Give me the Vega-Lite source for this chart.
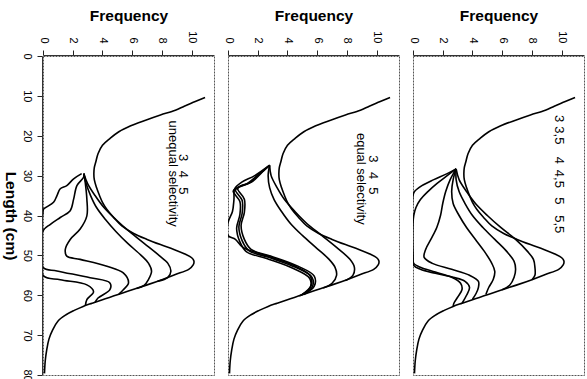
{
"$schema": "https://vega.github.io/schema/vega-lite/v6.json",
"padding": {"left": 1, "top": 8, "right": 2, "bottom": 0},
"data": {"values": [
{"p":1,"c":"m","L":10.4,"F":10.9},{"p":1,"c":"m","L":11.5,"F":10.2},{"p":1,"c":"m","L":12.6,"F":9.5},{"p":1,"c":"m","L":13.6,"F":8.9},{"p":1,"c":"m","L":14.8,"F":7.9},{"p":1,"c":"m","L":16.1,"F":6.9},{"p":1,"c":"m","L":17.5,"F":5.9},{"p":1,"c":"m","L":19,"F":5.1},{"p":1,"c":"m","L":20.7,"F":4.5},{"p":1,"c":"m","L":22.4,"F":4.0},{"p":1,"c":"m","L":24.5,"F":3.7},{"p":1,"c":"m","L":26.6,"F":3.55},{"p":1,"c":"m","L":28,"F":3.45},{"p":1,"c":"m","L":29.5,"F":3.42},{"p":1,"c":"m","L":31,"F":3.45},{"p":1,"c":"m","L":33,"F":3.6},{"p":1,"c":"m","L":35,"F":3.8},{"p":1,"c":"m","L":36.7,"F":4.0},{"p":1,"c":"m","L":38.5,"F":4.3},{"p":1,"c":"m","L":40.5,"F":4.75},{"p":1,"c":"m","L":42.6,"F":5.3},{"p":1,"c":"m","L":44.5,"F":6.1},{"p":1,"c":"m","L":46,"F":7.0},{"p":1,"c":"m","L":47.3,"F":7.9},{"p":1,"c":"m","L":48.5,"F":8.8},{"p":1,"c":"m","L":49.6,"F":9.5},{"p":1,"c":"m","L":50.6,"F":10.0},{"p":1,"c":"m","L":51.4,"F":10.15},{"p":1,"c":"m","L":52.4,"F":10.1},{"p":1,"c":"m","L":53.5,"F":9.8},{"p":1,"c":"m","L":54.8,"F":8.9},{"p":1,"c":"m","L":56.1,"F":8.0},{"p":1,"c":"m","L":57.4,"F":7.0},{"p":1,"c":"m","L":58.6,"F":6.0},{"p":1,"c":"m","L":59.9,"F":5.0},{"p":1,"c":"m","L":61.1,"F":4.0},{"p":1,"c":"m","L":62,"F":3.3},{"p":1,"c":"m","L":62.8,"F":2.7},{"p":1,"c":"m","L":63.8,"F":2.1},{"p":1,"c":"m","L":64.9,"F":1.55},{"p":1,"c":"m","L":66.5,"F":1.0},{"p":1,"c":"m","L":68.7,"F":0.65},{"p":1,"c":"m","L":71,"F":0.4},{"p":1,"c":"m","L":73.7,"F":0.25},{"p":1,"c":"m","L":76.5,"F":0.15},{"p":1,"c":"m","L":79.6,"F":0.1},
{"p":2,"c":"m","L":10.4,"F":10.9},{"p":2,"c":"m","L":11.5,"F":10.2},{"p":2,"c":"m","L":12.6,"F":9.5},{"p":2,"c":"m","L":13.6,"F":8.9},{"p":2,"c":"m","L":14.8,"F":7.9},{"p":2,"c":"m","L":16.1,"F":6.9},{"p":2,"c":"m","L":17.5,"F":5.9},{"p":2,"c":"m","L":19,"F":5.1},{"p":2,"c":"m","L":20.7,"F":4.5},{"p":2,"c":"m","L":22.4,"F":4.0},{"p":2,"c":"m","L":24.5,"F":3.7},{"p":2,"c":"m","L":26.6,"F":3.55},{"p":2,"c":"m","L":28,"F":3.45},{"p":2,"c":"m","L":29.5,"F":3.42},{"p":2,"c":"m","L":31,"F":3.45},{"p":2,"c":"m","L":33,"F":3.6},{"p":2,"c":"m","L":35,"F":3.8},{"p":2,"c":"m","L":36.7,"F":4.0},{"p":2,"c":"m","L":38.5,"F":4.3},{"p":2,"c":"m","L":40.5,"F":4.75},{"p":2,"c":"m","L":42.6,"F":5.3},{"p":2,"c":"m","L":44.5,"F":6.1},{"p":2,"c":"m","L":46,"F":7.0},{"p":2,"c":"m","L":47.3,"F":7.9},{"p":2,"c":"m","L":48.5,"F":8.8},{"p":2,"c":"m","L":49.6,"F":9.5},{"p":2,"c":"m","L":50.6,"F":10.0},{"p":2,"c":"m","L":51.4,"F":10.15},{"p":2,"c":"m","L":52.4,"F":10.1},{"p":2,"c":"m","L":53.5,"F":9.8},{"p":2,"c":"m","L":54.8,"F":8.9},{"p":2,"c":"m","L":56.1,"F":8.0},{"p":2,"c":"m","L":57.4,"F":7.0},{"p":2,"c":"m","L":58.6,"F":6.0},{"p":2,"c":"m","L":59.9,"F":5.0},{"p":2,"c":"m","L":61.1,"F":4.0},{"p":2,"c":"m","L":62,"F":3.3},{"p":2,"c":"m","L":62.8,"F":2.7},{"p":2,"c":"m","L":63.8,"F":2.1},{"p":2,"c":"m","L":64.9,"F":1.55},{"p":2,"c":"m","L":66.5,"F":1.0},{"p":2,"c":"m","L":68.7,"F":0.65},{"p":2,"c":"m","L":71,"F":0.4},{"p":2,"c":"m","L":73.7,"F":0.25},{"p":2,"c":"m","L":76.5,"F":0.15},{"p":2,"c":"m","L":79.6,"F":0.1},
{"p":3,"c":"m","L":10.4,"F":10.9},{"p":3,"c":"m","L":11.5,"F":10.2},{"p":3,"c":"m","L":12.6,"F":9.5},{"p":3,"c":"m","L":13.6,"F":8.9},{"p":3,"c":"m","L":14.8,"F":7.9},{"p":3,"c":"m","L":16.1,"F":6.9},{"p":3,"c":"m","L":17.5,"F":5.9},{"p":3,"c":"m","L":19,"F":5.1},{"p":3,"c":"m","L":20.7,"F":4.5},{"p":3,"c":"m","L":22.4,"F":4.0},{"p":3,"c":"m","L":24.5,"F":3.7},{"p":3,"c":"m","L":26.6,"F":3.55},{"p":3,"c":"m","L":28,"F":3.45},{"p":3,"c":"m","L":29.5,"F":3.42},{"p":3,"c":"m","L":31,"F":3.45},{"p":3,"c":"m","L":33,"F":3.6},{"p":3,"c":"m","L":35,"F":3.8},{"p":3,"c":"m","L":36.7,"F":4.0},{"p":3,"c":"m","L":38.5,"F":4.3},{"p":3,"c":"m","L":40.5,"F":4.75},{"p":3,"c":"m","L":42.6,"F":5.3},{"p":3,"c":"m","L":44.5,"F":6.1},{"p":3,"c":"m","L":46,"F":7.0},{"p":3,"c":"m","L":47.3,"F":7.9},{"p":3,"c":"m","L":48.5,"F":8.8},{"p":3,"c":"m","L":49.6,"F":9.5},{"p":3,"c":"m","L":50.6,"F":10.0},{"p":3,"c":"m","L":51.4,"F":10.15},{"p":3,"c":"m","L":52.4,"F":10.1},{"p":3,"c":"m","L":53.5,"F":9.8},{"p":3,"c":"m","L":54.8,"F":8.9},{"p":3,"c":"m","L":56.1,"F":8.0},{"p":3,"c":"m","L":57.4,"F":7.0},{"p":3,"c":"m","L":58.6,"F":6.0},{"p":3,"c":"m","L":59.9,"F":5.0},{"p":3,"c":"m","L":61.1,"F":4.0},{"p":3,"c":"m","L":62,"F":3.3},{"p":3,"c":"m","L":62.8,"F":2.7},{"p":3,"c":"m","L":63.8,"F":2.1},{"p":3,"c":"m","L":64.9,"F":1.55},{"p":3,"c":"m","L":66.5,"F":1.0},{"p":3,"c":"m","L":68.7,"F":0.65},{"p":3,"c":"m","L":71,"F":0.4},{"p":3,"c":"m","L":73.7,"F":0.25},{"p":3,"c":"m","L":76.5,"F":0.15},{"p":3,"c":"m","L":79.6,"F":0.1},
{"p":1,"c":"a","L":29.5,"F":2.75},{"p":1,"c":"a","L":32,"F":3.0},{"p":1,"c":"a","L":35,"F":3.5},{"p":1,"c":"a","L":38,"F":4.1},{"p":1,"c":"a","L":41,"F":4.9},{"p":1,"c":"a","L":44,"F":5.8},{"p":1,"c":"a","L":47,"F":6.8},{"p":1,"c":"a","L":50,"F":7.8},{"p":1,"c":"a","L":52,"F":8.4},{"p":1,"c":"a","L":54,"F":8.6},{"p":1,"c":"a","L":55.5,"F":8.4},{"p":1,"c":"a","L":56.5,"F":7.7},
{"p":1,"c":"b","L":29.5,"F":2.75},{"p":1,"c":"b","L":32,"F":2.9},{"p":1,"c":"b","L":35,"F":3.2},{"p":1,"c":"b","L":38,"F":3.6},{"p":1,"c":"b","L":41,"F":4.2},{"p":1,"c":"b","L":44,"F":4.9},{"p":1,"c":"b","L":47,"F":5.7},{"p":1,"c":"b","L":50,"F":6.6},{"p":1,"c":"b","L":52,"F":7.1},{"p":1,"c":"b","L":54,"F":7.3},{"p":1,"c":"b","L":56,"F":7.1},{"p":1,"c":"b","L":57.5,"F":6.8},{"p":1,"c":"b","L":58.3,"F":6.3},
{"p":1,"c":"c","L":29.5,"F":2.75},{"p":1,"c":"c","L":31.7,"F":2.84},{"p":1,"c":"c","L":35.9,"F":2.95},{"p":1,"c":"c","L":40.1,"F":2.95},{"p":1,"c":"c","L":43.4,"F":2.5},{"p":1,"c":"c","L":46,"F":1.83},{"p":1,"c":"c","L":48.5,"F":1.5},{"p":1,"c":"c","L":50.2,"F":1.6},{"p":1,"c":"c","L":51,"F":2.5},{"p":1,"c":"c","L":52.7,"F":4.3},{"p":1,"c":"c","L":54.4,"F":5.4},{"p":1,"c":"c","L":56.9,"F":5.75},{"p":1,"c":"c","L":58.6,"F":5.4},{"p":1,"c":"c","L":59.7,"F":5.1},
{"p":1,"c":"d","L":29.5,"F":2.6},{"p":1,"c":"d","L":30.8,"F":2.06},{"p":1,"c":"d","L":32.5,"F":1.6},{"p":1,"c":"d","L":33.3,"F":1.16},{"p":1,"c":"d","L":35,"F":0.94},{"p":1,"c":"d","L":36.7,"F":0.71},{"p":1,"c":"d","L":38.4,"F":0.04},{"p":1,"c":"d","L":39,"F":0},{"p":1,"c":"d","L":53,"F":0},{"p":1,"c":"d","L":53.9,"F":0.94},{"p":1,"c":"d","L":55.6,"F":3.17},{"p":1,"c":"d","L":56.9,"F":4.5},{"p":1,"c":"d","L":58.6,"F":4.5},{"p":1,"c":"d","L":60.7,"F":3.7},{"p":1,"c":"d","L":61.8,"F":3.5},
{"p":1,"c":"e","L":29.5,"F":2.75},{"p":1,"c":"e","L":30.4,"F":2.73},{"p":1,"c":"e","L":32.5,"F":2.28},{"p":1,"c":"e","L":35.9,"F":2.06},{"p":1,"c":"e","L":38.8,"F":1.83},{"p":1,"c":"e","L":40.5,"F":1.16},{"p":1,"c":"e","L":42.2,"F":0.5},{"p":1,"c":"e","L":43.9,"F":0},{"p":1,"c":"e","L":55,"F":0},{"p":1,"c":"e","L":56.1,"F":1.16},{"p":1,"c":"e","L":57.4,"F":2.95},{"p":1,"c":"e","L":59.1,"F":3.4},{"p":1,"c":"e","L":61.1,"F":2.95},{"p":1,"c":"e","L":62.6,"F":2.85},
{"p":2,"c":"a","L":27.4,"F":2.8},{"p":2,"c":"a","L":30,"F":2.9},{"p":2,"c":"a","L":33,"F":3.3},{"p":2,"c":"a","L":36,"F":3.8},{"p":2,"c":"a","L":39,"F":4.5},{"p":2,"c":"a","L":42,"F":5.3},{"p":2,"c":"a","L":45,"F":6.3},{"p":2,"c":"a","L":48,"F":7.3},{"p":2,"c":"a","L":51,"F":8.2},{"p":2,"c":"a","L":53,"F":8.5},{"p":2,"c":"a","L":55,"F":8.4},{"p":2,"c":"a","L":56.3,"F":7.9},
{"p":2,"c":"b","L":27.4,"F":2.8},{"p":2,"c":"b","L":30,"F":2.7},{"p":2,"c":"b","L":33,"F":2.8},{"p":2,"c":"b","L":36,"F":3.1},{"p":2,"c":"b","L":39,"F":3.6},{"p":2,"c":"b","L":42,"F":4.2},{"p":2,"c":"b","L":45,"F":5.0},{"p":2,"c":"b","L":48,"F":5.9},{"p":2,"c":"b","L":51,"F":6.8},{"p":2,"c":"b","L":53,"F":7.2},{"p":2,"c":"b","L":55,"F":7.3},{"p":2,"c":"b","L":57,"F":7.0},{"p":2,"c":"b","L":58.2,"F":6.4},
{"p":2,"c":"c","L":27.4,"F":2.8},{"p":2,"c":"c","L":29.5,"F":2.2},{"p":2,"c":"c","L":31.7,"F":1.55},{"p":2,"c":"c","L":32.5,"F":0.88},{"p":2,"c":"c","L":33.3,"F":0.65},{"p":2,"c":"c","L":35.9,"F":1.1},{"p":2,"c":"c","L":39.2,"F":1.1},{"p":2,"c":"c","L":42.6,"F":0.88},{"p":2,"c":"c","L":46,"F":1.1},{"p":2,"c":"c","L":48.5,"F":1.55},{"p":2,"c":"c","L":50.2,"F":2.9},{"p":2,"c":"c","L":52.7,"F":4.7},{"p":2,"c":"c","L":55.2,"F":5.8},{"p":2,"c":"c","L":57.7,"F":5.8},{"p":2,"c":"c","L":59.8,"F":5.1},
{"p":2,"c":"d","L":27.4,"F":2.8},{"p":2,"c":"d","L":29.7,"F":2.1},{"p":2,"c":"d","L":31.9,"F":1.4},{"p":2,"c":"d","L":32.8,"F":0.75},{"p":2,"c":"d","L":33.6,"F":0.5},{"p":2,"c":"d","L":36.2,"F":0.95},{"p":2,"c":"d","L":39.5,"F":0.95},{"p":2,"c":"d","L":42.9,"F":0.73},{"p":2,"c":"d","L":46.3,"F":0.95},{"p":2,"c":"d","L":48.8,"F":1.4},{"p":2,"c":"d","L":50.5,"F":2.75},{"p":2,"c":"d","L":53,"F":4.55},{"p":2,"c":"d","L":55.5,"F":5.65},{"p":2,"c":"d","L":58,"F":5.65},{"p":2,"c":"d","L":60,"F":4.9},
{"p":2,"c":"e","L":27.4,"F":2.8},{"p":2,"c":"e","L":29.9,"F":2.0},{"p":2,"c":"e","L":32.1,"F":1.25},{"p":2,"c":"e","L":33.1,"F":0.6},{"p":2,"c":"e","L":33.9,"F":0.35},{"p":2,"c":"e","L":36.5,"F":0.8},{"p":2,"c":"e","L":39.8,"F":0.8},{"p":2,"c":"e","L":43.2,"F":0.58},{"p":2,"c":"e","L":46.6,"F":0.8},{"p":2,"c":"e","L":49.1,"F":1.25},{"p":2,"c":"e","L":50.8,"F":2.6},{"p":2,"c":"e","L":53.3,"F":4.4},{"p":2,"c":"e","L":55.8,"F":5.5},{"p":2,"c":"e","L":58.3,"F":5.5},{"p":2,"c":"e","L":60.2,"F":4.8},
{"p":2,"c":"f","L":27.4,"F":2.8},{"p":2,"c":"f","L":30,"F":1.8},{"p":2,"c":"f","L":31.7,"F":0.9},{"p":2,"c":"f","L":33.3,"F":0.45},{"p":2,"c":"f","L":36,"F":0.4},{"p":2,"c":"f","L":39,"F":0.3},{"p":2,"c":"f","L":41.8,"F":0},{"p":2,"c":"f","L":45,"F":0},{"p":2,"c":"f","L":46,"F":0.5},{"p":2,"c":"f","L":48,"F":1.0},{"p":2,"c":"f","L":50,"F":2.5},{"p":2,"c":"f","L":52.5,"F":4.4},{"p":2,"c":"f","L":55,"F":5.5},{"p":2,"c":"f","L":57.5,"F":5.6},{"p":2,"c":"f","L":59.8,"F":5.0},
{"p":3,"c":"a","L":28.3,"F":2.9},{"p":3,"c":"a","L":31,"F":3.1},{"p":3,"c":"a","L":34,"F":3.6},{"p":3,"c":"a","L":37,"F":4.2},{"p":3,"c":"a","L":40,"F":5.0},{"p":3,"c":"a","L":43,"F":5.9},{"p":3,"c":"a","L":46,"F":6.9},{"p":3,"c":"a","L":49,"F":7.7},{"p":3,"c":"a","L":51,"F":8.1},{"p":3,"c":"a","L":53,"F":8.2},{"p":3,"c":"a","L":55,"F":8.2},{"p":3,"c":"a","L":56.1,"F":8.0},
{"p":3,"c":"b","L":28.3,"F":2.9},{"p":3,"c":"b","L":31,"F":2.9},{"p":3,"c":"b","L":34,"F":3.1},{"p":3,"c":"b","L":37,"F":3.5},{"p":3,"c":"b","L":40,"F":4.0},{"p":3,"c":"b","L":43,"F":4.7},{"p":3,"c":"b","L":46,"F":5.5},{"p":3,"c":"b","L":49,"F":6.3},{"p":3,"c":"b","L":51.5,"F":6.8},{"p":3,"c":"b","L":53.5,"F":6.9},{"p":3,"c":"b","L":55.5,"F":6.8},{"p":3,"c":"b","L":57.5,"F":6.5},{"p":3,"c":"b","L":58.6,"F":6.0},
{"p":3,"c":"c","L":28.3,"F":2.9},{"p":3,"c":"c","L":31,"F":2.7},{"p":3,"c":"c","L":34,"F":2.6},{"p":3,"c":"c","L":37,"F":2.7},{"p":3,"c":"c","L":40,"F":3.1},{"p":3,"c":"c","L":43,"F":3.6},{"p":3,"c":"c","L":46,"F":4.2},{"p":3,"c":"c","L":49,"F":4.8},{"p":3,"c":"c","L":52,"F":5.3},{"p":3,"c":"c","L":54,"F":5.5},{"p":3,"c":"c","L":56,"F":5.4},{"p":3,"c":"c","L":58,"F":5.1},{"p":3,"c":"c","L":59.8,"F":4.9},
{"p":3,"c":"d","L":28.3,"F":2.9},{"p":3,"c":"d","L":31,"F":2.5},{"p":3,"c":"d","L":34,"F":2.2},{"p":3,"c":"d","L":37,"F":2.0},{"p":3,"c":"d","L":40,"F":1.85},{"p":3,"c":"d","L":43,"F":1.6},{"p":3,"c":"d","L":46,"F":1.2},{"p":3,"c":"d","L":48.5,"F":0.85},{"p":3,"c":"d","L":50.5,"F":0.75},{"p":3,"c":"d","L":52,"F":1.3},{"p":3,"c":"d","L":53.5,"F":2.6},{"p":3,"c":"d","L":55,"F":3.8},{"p":3,"c":"d","L":56.5,"F":4.4},{"p":3,"c":"d","L":58,"F":4.4},{"p":3,"c":"d","L":59.5,"F":4.25},{"p":3,"c":"d","L":61,"F":4.0},
{"p":3,"c":"e","L":28.3,"F":2.9},{"p":3,"c":"e","L":30,"F":2.3},{"p":3,"c":"e","L":32,"F":1.6},{"p":3,"c":"e","L":34,"F":1.0},{"p":3,"c":"e","L":36,"F":0.5},{"p":3,"c":"e","L":38,"F":0.2},{"p":3,"c":"e","L":40,"F":0.05},{"p":3,"c":"e","L":42,"F":0},{"p":3,"c":"e","L":50,"F":0},{"p":3,"c":"e","L":52.5,"F":0.05},{"p":3,"c":"e","L":53.5,"F":0.5},{"p":3,"c":"e","L":54.5,"F":1.5},{"p":3,"c":"e","L":55.5,"F":2.7},{"p":3,"c":"e","L":56.5,"F":3.5},{"p":3,"c":"e","L":58,"F":3.8},{"p":3,"c":"e","L":60,"F":3.6},{"p":3,"c":"e","L":62,"F":3.3},
{"p":3,"c":"f","L":28.3,"F":2.9},{"p":3,"c":"f","L":29.5,"F":2.3},{"p":3,"c":"f","L":31,"F":1.4},{"p":3,"c":"f","L":32.5,"F":0.6},{"p":3,"c":"f","L":34,"F":0.1},{"p":3,"c":"f","L":35,"F":0},{"p":3,"c":"f","L":51,"F":0},{"p":3,"c":"f","L":52,"F":0.05},{"p":3,"c":"f","L":53,"F":0.5},{"p":3,"c":"f","L":54.2,"F":1.5},{"p":3,"c":"f","L":55.5,"F":2.6},{"p":3,"c":"f","L":57,"F":3.2},{"p":3,"c":"f","L":58.5,"F":3.3},{"p":3,"c":"f","L":60.5,"F":3.0},{"p":3,"c":"f","L":62,"F":2.75},{"p":3,"c":"f","L":62.8,"F":2.7},
{"p":1,"c":"n","L":25.5,"F":9.4,"t":"3"},{"p":1,"c":"n","L":29.7,"F":9.4,"t":"4"},{"p":1,"c":"n","L":33.8,"F":9.4,"t":"5"},{"p":1,"c":"n","L":29.5,"F":8.75,"t":"unequal selectivity"},
{"p":2,"c":"n","L":25.8,"F":9.76,"t":"3"},{"p":2,"c":"n","L":30,"F":9.76,"t":"4"},{"p":2,"c":"n","L":33.8,"F":9.76,"t":"5"},{"p":2,"c":"n","L":30.8,"F":8.96,"t":"equal selectivity"},
{"p":3,"c":"n","L":15.7,"F":9.85,"t":"3"},{"p":3,"c":"n","L":19.9,"F":9.85,"t":"3,5"},{"p":3,"c":"n","L":26.2,"F":9.85,"t":"4"},{"p":3,"c":"n","L":30.8,"F":9.85,"t":"4,5"},{"p":3,"c":"n","L":36.3,"F":9.85,"t":"5"},{"p":3,"c":"n","L":42.2,"F":9.85,"t":"5,5"}
]},
"facet": {"column": {"field": "p", "type": "ordinal", "header": {"title": null, "labels": false, "labelPadding": 0, "titlePadding": 0}}},
"spacing": 12,
"spec": {
  "width": 171,
  "height": 319,
  "encoding": {
    "x": {"field": "F", "type": "quantitative", "scale": {"domain": [0, 11.5], "nice": false, "zero": false},
      "axis": {"orient": "top", "title": "Frequency", "values": [0,2,4,6,8,10], "labelAngle": 90, "labelAlign": "right", "labelBaseline": "middle", "labelPadding": 7, "tickSize": 5, "titlePadding": 7, "grid": false}},
    "y": {"field": "L", "type": "quantitative", "scale": {"domain": [0, 80], "nice": false, "reverse": true},
      "axis": {"title": "Length (cm)", "values": [0,10,20,30,40,50,60,70,80], "labelAngle": 90, "labelAlign": "center", "labelBaseline": "top", "labelPadding": 5, "tickSize": 5, "titleAngle": 90, "titleBaseline": "top", "titlePadding": 4, "grid": false}}
  },
  "layer": [
    {
      "transform": [{"filter": "datum.c != 'n'"}],
      "mark": {"type": "line", "color": "black", "strokeWidth": 1.6, "interpolate": "catmull-rom", "clip": true},
      "encoding": {"detail": {"field": "c", "type": "nominal"}, "order": {"field": "L", "type": "quantitative"}}
    },
    {
      "transform": [{"filter": "datum.c == 'n'"}],
      "mark": {"type": "text", "angle": 90, "fontSize": 13, "align": "center", "baseline": "middle", "color": "black"},
      "encoding": {"text": {"field": "t", "type": "nominal"}}
    }
  ]
},
"config": {
  "font": "Liberation Sans",
  "view": {"stroke": "#555", "strokeWidth": 1, "strokeDash": [2, 1]},
  "axis": {"labelFont": "Liberation Sans", "labelFontSize": 11, "labelColor": "black", "titleFont": "Liberation Sans", "titleFontSize": 15.5, "titleFontWeight": "bold", "titleColor": "black", "domainColor": "#333", "tickColor": "#222", "labelFlush": false, "labelOverlap": false}
}
}
